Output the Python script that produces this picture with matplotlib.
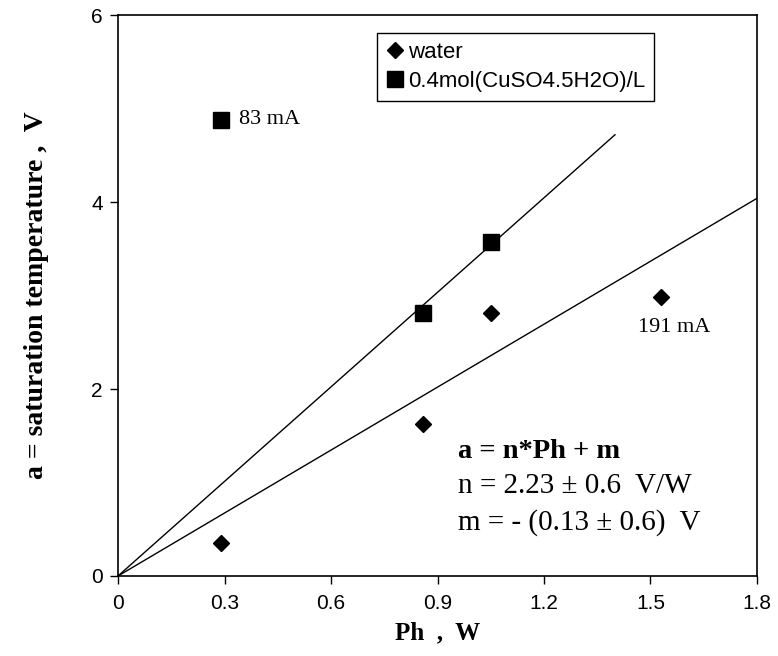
import matplotlib.pyplot as plt

# data
ph_water = [0.29, 0.86, 1.05, 1.53]
a_water = [0.35, 1.63, 2.81, 2.98]

ph_cuso4 = [0.29, 0.86, 1.05]
a_cuso4 = [4.88, 2.81, 3.57]

# fit lines (end points)
fit_cuso4_x = [0.0, 1.40]
fit_cuso4_y = [0.0, 4.72]
fit_water_x = [0.0, 1.8]
fit_water_y = [0.0, 4.04]

x_ticks = [0, 0.3, 0.6, 0.9, 1.2, 1.5, 1.8]
x_ticklabels = ['0', '0.3', '0.6', '0.9', '1.2', '1.5', '1.8']
y_ticks = [0, 2, 4, 6]

serif = 'Liberation Serif'
sans = 'Liberation Sans'

fig = plt.figure(figsize=(7.78, 6.56), dpi=100)
ax = fig.add_axes([0.1517, 0.122, 0.8213, 0.855])

ax.plot(fit_cuso4_x, fit_cuso4_y, color='black', lw=1)
ax.plot(fit_water_x, fit_water_y, color='black', lw=1)

ax.plot(ph_water, a_water, linestyle='none', marker='D', markersize=8,
        color='black', label='water')
ax.plot(ph_cuso4, a_cuso4, linestyle='none', marker='s', markersize=12,
        color='black', label='0.4mol(CuSO4.5H2O)/L')

ax.text(0.341, 4.88, '83 mA', fontsize=16, family=serif, va='center', ha='left')
ax.text(1.566, 2.61, '191 mA', fontsize=16, family=serif, va='baseline', ha='center')

# fit equation
ax.text(0.958, 1.26, 'a = n*Ph + m', fontsize=20.5, family=serif, weight='bold',
        va='baseline')
ax.text(0.958, 0.89, 'n = 2.23 ± 0.6  V/W', fontsize=21, family=serif,
        va='baseline')
ax.text(0.958, 0.49, 'm = - (0.13 ± 0.6)  V', fontsize=21, family=serif,
        va='baseline')

ax.set_xlim(0, 1.8)
ax.set_ylim(0, 6)
ax.set_xticks(x_ticks)
ax.set_xticklabels(x_ticklabels)
ax.set_yticks(y_ticks)
ax.tick_params(direction='out', length=6, width=1, labelsize=15)
ax.tick_params(axis='x', pad=7)
ax.tick_params(axis='y', pad=5)
for lab in ax.get_xticklabels() + ax.get_yticklabels():
    lab.set_family(sans)
for sp in ax.spines.values():
    sp.set_linewidth(1.2)

ax.set_xlabel('Ph  ,  W', fontsize=18, family=serif, weight='bold', labelpad=6)
ax.set_ylabel('a = saturation temperature ,  V', fontsize=20, family=serif,
              weight='bold', labelpad=30)

leg = ax.legend(loc='upper left', bbox_to_anchor=(0.405, 0.968),
                frameon=True, fancybox=False, framealpha=1, edgecolor='black',
                prop={'family': sans, 'size': 16}, handlelength=0.8,
                handletextpad=0.2, borderpad=0.4, labelspacing=0.35,
                borderaxespad=0)
leg.get_frame().set_linewidth(1)

fig.savefig('out.png', dpi=100)
